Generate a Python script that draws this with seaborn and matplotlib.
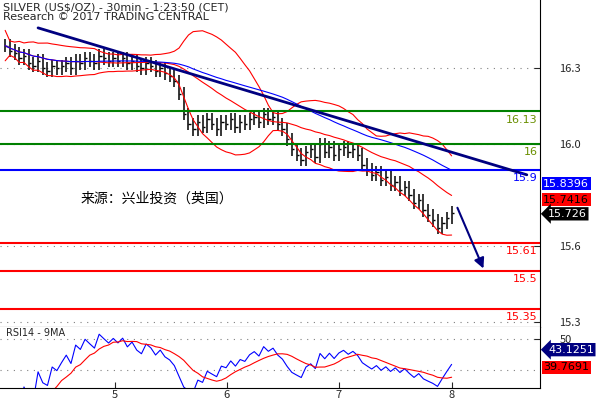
import numpy as np
import pandas as pd
import matplotlib
matplotlib.use("Agg")
import matplotlib.pyplot as plt
import seaborn as sns

closes = [16.39,16.37,16.36,16.34,16.35,16.32,16.31,16.33,16.30,16.29,16.31,16.30,
          16.31,16.32,16.30,16.33,16.32,16.34,16.33,16.32,16.35,16.34,16.33,16.34,16.33,
          16.34,16.32,16.33,16.31,16.30,16.32,16.31,16.29,16.30,16.28,16.27,16.25,
          16.20,16.12,16.08,
          16.06,16.09,16.07,16.10,16.08,16.06,16.09,16.08,16.10,16.07,16.09,16.08,16.10,16.11,16.09,16.12,16.10,16.11,16.08,
          16.06,16.02,15.98,15.96,15.94,15.97,
          15.98,15.95,16.00,15.97,15.99,15.96,15.98,15.99,15.97,15.98,15.96,
          15.92,15.90,15.88,15.89,15.86,15.87,15.84,15.85,15.82,15.83,15.80,
          15.77,15.78,15.74,15.72,15.70,15.67,15.69,15.71,15.73]
green_levels = [16.13, 16.0]
blue_levels = [15.9]
red_levels = [15.61, 15.5, 15.35]
level_labels = {16.13: "16.13", 16.0: "16", 15.9: "15.9", 15.61: "15.61", 15.5: "15.5", 15.35: "15.35"}
trend = ([7, 111], [16.46, 15.88])
arrow = ([96, 102], [15.76, 15.50])
day_ticks = [23.4, 47.2, 71.0, 95.0]
day_labels = ["5", "6", "7", "8"]
price_ticks = [15.3, 15.6, 16.0, 16.3]
last_values = ["15.8396", "15.7416", "15.726"]
rsi_values = ["43.1251", "39.7691"]

sns.set_style("white")
plt.rcParams['font.family'] = ['Noto Sans CJK SC', 'DejaVu Sans']

s = pd.Series(closes)
idx = np.arange(len(s))
prev = s.shift(1).fillna(s)
hi = np.maximum(prev, s) + 0.025
lo = np.minimum(prev, s) - 0.025
mid = s.rolling(20, min_periods=1).mean()
sd = s.rolling(20, min_periods=2).std().fillna(0.03)
ma = s.rolling(40, min_periods=1).mean()
d = s.diff().fillna(0)
up = d.clip(lower=0).ewm(alpha=1/14).mean()
dn = (-d.clip(upper=0)).ewm(alpha=1/14).mean()
rsi = 100 - 100 / (1 + up / dn.replace(0, 1e-6))
rsi_ma = rsi.rolling(9, min_periods=1).mean()

fig = plt.figure(figsize=(5.96, 4.01), dpi=100)
ax = fig.add_axes([0, 0.185, 0.906, 0.815])
ax2 = fig.add_axes([0, 0.032, 0.906, 0.153], sharex=ax)

ax.vlines(idx, lo, hi, color="black", lw=1.1)
ax.hlines(s, idx, idx + 0.5, color="black", lw=1)
sns.lineplot(x=idx, y=mid + 2 * sd, ax=ax, color="red", lw=0.8)
sns.lineplot(x=idx, y=mid - 2 * sd, ax=ax, color="red", lw=0.8)
sns.lineplot(x=idx, y=mid, ax=ax, color="red", lw=0.8)
sns.lineplot(x=idx, y=ma, ax=ax, color="blue", lw=0.8)

for lv in green_levels:
    ax.axhline(lv, color="green", lw=1.5)
for lv in blue_levels:
    ax.axhline(lv, color="blue", lw=1.5)
for lv in red_levels:
    ax.axhline(lv, color="red", lw=1.5)
cols = {16.13: "#6a8f00", 16.0: "#6a8f00", 15.9: "blue", 15.61: "red", 15.5: "red", 15.35: "red"}
for lv, t in level_labels.items():
    ax.text(113.3, lv - 0.012, t, color=cols[lv], ha="right", va="top", fontsize=8, family="DejaVu Sans")

ax.plot(trend[0], trend[1], color="navy", lw=2)
ax.annotate("", xy=(arrow[0][1], arrow[1][1]), xytext=(arrow[0][0], arrow[1][0]),
            arrowprops=dict(arrowstyle="-|>", color="navy", lw=1.5, mutation_scale=15))

ax.text(16, 15.77, "来源：兴业投资（英国）", fontsize=10, color="black")
fig.text(0.005, 0.995, "SILVER (US$/OZ) - 30min - 1:23:50 (CET)\nResearch © 2017 TRADING CENTRAL",
         va="top", ha="left", fontsize=8, family="DejaVu Sans", linespacing=1.05)

ax.set_xlim(-1.1, 113.8)
ax.set_ylim(15.28, 16.57)
for a in (ax, ax2):
    for sp in ("left", "top"):
        a.spines[sp].set_visible(False)
    a.spines["right"].set_color("black")
    a.spines["bottom"].set_color("black")
    a.yaxis.tick_right()
    a.tick_params(axis="y", direction="in", length=4, labelsize=8, pad=14, right=True)
    a.set_xlabel(""); a.set_ylabel("")
ax.set_yticks(price_ticks)
ax.set_yticklabels(["15.3", "15.6", "16.0", "16.3"])
for t in price_ticks:
    ax.axhline(t, color="gray", ls=(0, (1, 5)), lw=0.8, zorder=0)
ax.tick_params(axis="x", bottom=False, labelbottom=False)

sns.lineplot(x=idx, y=rsi, ax=ax2, color="blue", lw=0.8)
sns.lineplot(x=idx, y=rsi_ma, ax=ax2, color="red", lw=0.8)
ax2.set_ylim(18, 58)
ax2.set_yticks([50])
ax2.set_yticklabels(["50"])
for t in [50, 30]:
    ax2.axhline(t, color="gray", ls=(0, (1, 5)), lw=0.8, zorder=0)
ax2.text(0.2, 57, "RSI14 - 9MA", fontsize=7, va="top", family="DejaVu Sans")
ax2.set_xticks(day_ticks)
ax2.set_xticklabels(day_labels, fontsize=8)
ax2.tick_params(axis="x", direction="in", length=4, pad=1, bottom=True)

bkw = dict(fontsize=8, ha="left", va="center", family="DejaVu Sans", clip_on=False)
ax.text(114.5, 15.845, last_values[0], color="white",
        bbox=dict(boxstyle="square,pad=0.15", fc="blue", ec="none"), **bkw)
ax.text(114.5, 15.782, last_values[1], color="black",
        bbox=dict(boxstyle="square,pad=0.15", fc="red", ec="none"), **bkw)
ax.text(115.5, 15.726, last_values[2], color="white",
        bbox=dict(boxstyle="larrow,pad=0.15", fc="black", ec="none"), **bkw)
ax2.text(115.5, 43.1, rsi_values[0], color="white",
         bbox=dict(boxstyle="larrow,pad=0.15", fc="navy", ec="none"), **bkw)
ax2.text(114.5, 31.5, rsi_values[1], color="black",
         bbox=dict(boxstyle="square,pad=0.15", fc="red", ec="none"), **bkw)

fig.savefig("out.png", dpi=100)
